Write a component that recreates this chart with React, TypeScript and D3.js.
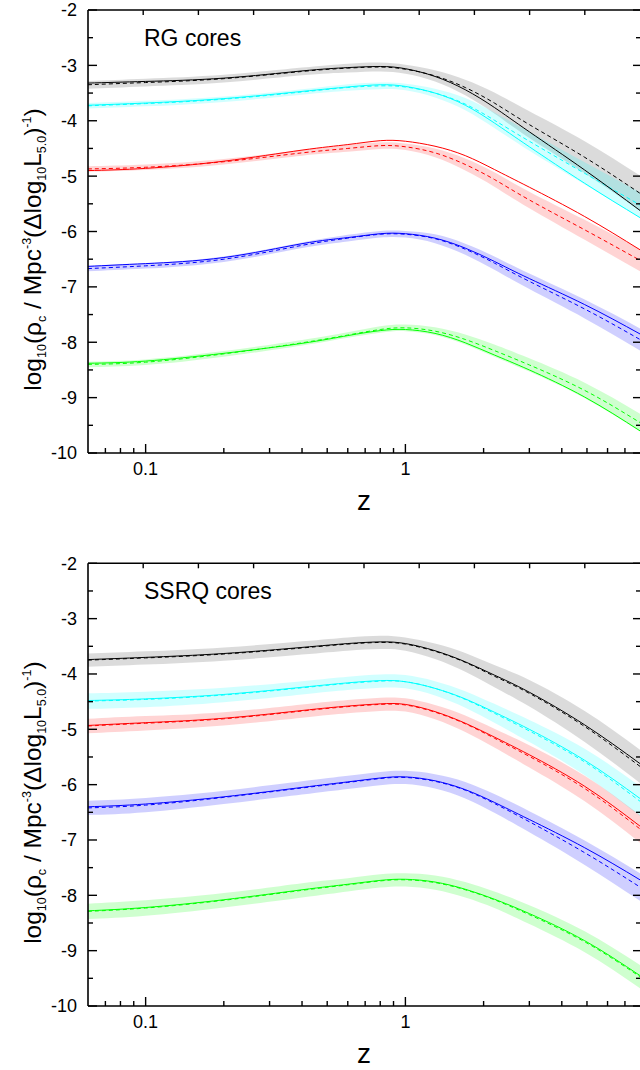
import React from "react";
import * as d3 from "d3";

// redshift grid
const zGrid = [0.06, 0.1, 0.2, 0.4, 0.6, 0.8, 1.0, 1.3, 1.7, 2.2, 3, 4.9, 8];

// ---- RG cores (top panel) ----
const rgBlackSolid = [-3.32, -3.29, -3.23, -3.10, -3.04, -3.02, -3.06, -3.20, -3.44, -3.76, -4.20, -4.89, -5.62];
const rgBlackDash = [-3.35, -3.31, -3.24, -3.11, -3.05, -3.03, -3.07, -3.19, -3.40, -3.68, -4.07, -4.66, -5.31];
const rgBlackErr = [0.07, 0.07, 0.07, 0.07, 0.08, 0.08, 0.08, 0.10, 0.14, 0.19, 0.24, 0.29, 0.32];
const rgCyanSolid = [-3.72, -3.68, -3.60, -3.47, -3.39, -3.35, -3.38, -3.50, -3.72, -4.04, -4.47, -5.13, -5.75];
const rgCyanDash = [-3.73, -3.69, -3.61, -3.48, -3.40, -3.37, -3.39, -3.50, -3.70, -3.99, -4.37, -4.95, -5.52];
const rgCyanErr = [0.05, 0.05, 0.05, 0.05, 0.06, 0.06, 0.06, 0.08, 0.11, 0.14, 0.17, 0.2, 0.23];
const rgRedSolid = [-4.90, -4.86, -4.73, -4.53, -4.43, -4.36, -4.37, -4.46, -4.63, -4.88, -5.20, -5.73, -6.33];
const rgRedDash = [-4.87, -4.84, -4.74, -4.58, -4.50, -4.45, -4.47, -4.58, -4.79, -5.06, -5.43, -5.97, -6.52];
const rgRedErr = [0.05, 0.05, 0.05, 0.05, 0.06, 0.06, 0.06, 0.08, 0.11, 0.13, 0.15, 0.18, 0.2];
const rgBlueSolid = [-6.63, -6.58, -6.47, -6.22, -6.11, -6.04, -6.04, -6.12, -6.30, -6.54, -6.85, -7.32, -7.85];
const rgBlueDash = [-6.67, -6.62, -6.50, -6.25, -6.12, -6.05, -6.05, -6.13, -6.32, -6.57, -6.90, -7.40, -7.95];
const rgBlueErr = [0.05, 0.05, 0.05, 0.05, 0.06, 0.06, 0.06, 0.08, 0.1, 0.12, 0.14, 0.17, 0.2];
const rgGreenSolid = [-8.38, -8.34, -8.20, -8.02, -7.88, -7.79, -7.77, -7.84, -8.01, -8.23, -8.50, -8.99, -9.60];
const rgGreenDash = [-8.40, -8.36, -8.21, -8.01, -7.87, -7.77, -7.74, -7.80, -7.95, -8.15, -8.41, -8.87, -9.45];
const rgGreenErr = [0.05, 0.05, 0.05, 0.05, 0.05, 0.06, 0.06, 0.07, 0.09, 0.11, 0.12, 0.14, 0.16];

// ---- SSRQ cores (bottom panel) ----
const sqBlackSolid = [-3.74, -3.70, -3.63, -3.52, -3.45, -3.42, -3.45, -3.58, -3.78, -4.02, -4.33, -4.92, -5.62];
const sqBlackDash = [-3.75, -3.71, -3.64, -3.53, -3.46, -3.43, -3.46, -3.59, -3.79, -4.04, -4.35, -4.95, -5.67];
const sqBlackErr = [0.12, 0.12, 0.12, 0.12, 0.12, 0.12, 0.12, 0.14, 0.17, 0.2, 0.24, 0.28, 0.3];
const sqCyanSolid = [-4.48, -4.45, -4.37, -4.24, -4.16, -4.12, -4.14, -4.26, -4.45, -4.69, -5.00, -5.56, -6.25];
const sqCyanDash = [-4.49, -4.46, -4.38, -4.25, -4.17, -4.13, -4.14, -4.26, -4.46, -4.71, -5.03, -5.59, -6.30];
const sqCyanErr = [0.14, 0.14, 0.13, 0.12, 0.12, 0.12, 0.12, 0.13, 0.15, 0.17, 0.2, 0.24, 0.27];
const sqRedSolid = [-4.93, -4.88, -4.80, -4.66, -4.58, -4.54, -4.55, -4.68, -4.89, -5.14, -5.46, -6.03, -6.75];
const sqRedDash = [-4.94, -4.89, -4.81, -4.67, -4.59, -4.55, -4.56, -4.69, -4.90, -5.16, -5.49, -6.07, -6.80];
const sqRedErr = [0.13, 0.13, 0.12, 0.12, 0.12, 0.12, 0.12, 0.13, 0.15, 0.17, 0.2, 0.23, 0.25];
const sqBlueSolid = [-6.40, -6.35, -6.22, -6.05, -5.95, -5.88, -5.86, -5.93, -6.09, -6.32, -6.63, -7.14, -7.72];
const sqBlueDash = [-6.42, -6.37, -6.23, -6.06, -5.96, -5.89, -5.87, -5.94, -6.10, -6.34, -6.67, -7.23, -7.85];
const sqBlueErr = [0.13, 0.13, 0.12, 0.12, 0.12, 0.12, 0.12, 0.13, 0.15, 0.17, 0.19, 0.22, 0.25];
const sqGreenSolid = [-8.28, -8.22, -8.08, -7.90, -7.80, -7.73, -7.71, -7.76, -7.89, -8.07, -8.33, -8.82, -9.45];
const sqGreenDash = [-8.29, -8.23, -8.09, -7.91, -7.81, -7.74, -7.72, -7.77, -7.90, -8.08, -8.35, -8.84, -9.47];
const sqGreenErr = [0.14, 0.14, 0.13, 0.13, 0.12, 0.12, 0.12, 0.13, 0.14, 0.15, 0.17, 0.19, 0.21];

const seriesColors = ["#000000", "#00ffff", "#ff0000", "#0000ff", "#00ff00"];
const bandOpacity = [0.14, 0.18, 0.17, 0.19, 0.19];

const yTicksMajor = [-2, -3, -4, -5, -6, -7, -8, -9, -10];
const yTicksMinor = [-2.5, -3.5, -4.5, -5.5, -6.5, -7.5, -8.5, -9.5];
const xTicksMajor = [0.1, 1];
const xTickLabels = ["0.1", "1"];
const xTicksMinor = [0.07, 0.08, 0.09, 0.2, 0.3, 0.4, 0.5, 0.6, 0.7, 0.8, 0.9, 2, 3, 4, 5, 6, 7];
const topTicks = [1, 2, 3, 4, 5, 6, 7, 8, 9];

const FONT = "'Liberation Sans', Arial, Helvetica, sans-serif";

type Series = { solid: number[]; dash: number[]; err: number[] };

const rgSeries: Series[] = [
  { solid: rgBlackSolid, dash: rgBlackDash, err: rgBlackErr },
  { solid: rgCyanSolid, dash: rgCyanDash, err: rgCyanErr },
  { solid: rgRedSolid, dash: rgRedDash, err: rgRedErr },
  { solid: rgBlueSolid, dash: rgBlueDash, err: rgBlueErr },
  { solid: rgGreenSolid, dash: rgGreenDash, err: rgGreenErr },
];
const sqSeries: Series[] = [
  { solid: sqBlackSolid, dash: sqBlackDash, err: sqBlackErr },
  { solid: sqCyanSolid, dash: sqCyanDash, err: sqCyanErr },
  { solid: sqRedSolid, dash: sqRedDash, err: sqRedErr },
  { solid: sqBlueSolid, dash: sqBlueDash, err: sqBlueErr },
  { solid: sqGreenSolid, dash: sqGreenDash, err: sqGreenErr },
];

const LEFT = 88;
const RIGHT = 641;

function Panel({ top, bottom, label, series, id }: { top: number; bottom: number; label: string; series: Series[]; id: string }) {
  const x = d3.scaleLog().domain([0.06, 8]).range([LEFT, 640]);
  const y = d3.scaleLinear().domain([-10, -2]).range([bottom, top]);
  const xt = d3.scaleLinear().domain([0, 10]).range([LEFT, 640]);
  const curve = d3.curveNatural;
  const line = d3
    .line<number>()
    .x((_, i) => x(zGrid[i]))
    .y((d) => y(d))
    .curve(curve);
  const area = (s: Series) =>
    d3
      .area<number>()
      .x((_, i) => x(zGrid[i]))
      .y0((d, i) => y(d - s.err[i]))
      .y1((d, i) => y(d + s.err[i]))
      .curve(curve)(s.dash) || "";

  const midY = (top + bottom) / 2 + 18;
  const sub = 12.5;
  return (
    <g>
      <defs>
        <clipPath id={id}>
          <rect x={LEFT} y={top} width={RIGHT - LEFT} height={bottom - top} />
        </clipPath>
      </defs>
      <g clipPath={`url(#${id})`}>
        {series.map((s, i) => (
          <path key={"b" + i} d={area(s)} fill={seriesColors[i]} fillOpacity={bandOpacity[i]} stroke="none" />
        ))}
        {series.map((s, i) => (
          <path key={"d" + i} d={line(s.dash) || ""} fill="none" stroke={seriesColors[i]} strokeWidth={1} strokeDasharray="4 3" />
        ))}
        {series.map((s, i) => (
          <path key={"s" + i} d={line(s.solid) || ""} fill="none" stroke={seriesColors[i]} strokeWidth={1} />
        ))}
      </g>
      {/* frame */}
      <line x1={LEFT} x2={LEFT} y1={top} y2={bottom} stroke="#000" strokeWidth={1.6} />
      <line x1={LEFT} x2={RIGHT + 2} y1={bottom} y2={bottom} stroke="#000" strokeWidth={1.6} />
      <line x1={LEFT} x2={RIGHT + 2} y1={top} y2={top} stroke="#000" strokeWidth={1.6} />
      <line x1={RIGHT} x2={RIGHT} y1={top} y2={bottom} stroke="#000" strokeWidth={1.6} />
      {/* y ticks */}
      {yTicksMajor.map((t) => (
        <g key={"ym" + t}>
          <line x1={LEFT} x2={LEFT + 9} y1={y(t)} y2={y(t)} stroke="#000" strokeWidth={1.4} />
          <line x1={RIGHT} x2={RIGHT - 8} y1={y(t)} y2={y(t)} stroke="#000" strokeWidth={1.4} />
          <text x={77} y={y(t)} dy="0.36em" textAnchor="end" fontSize={18} fontFamily={FONT}>
            {String(t)}
          </text>
        </g>
      ))}
      {yTicksMinor.map((t) => (
        <g key={"yn" + t}>
          <line x1={LEFT} x2={LEFT + 5} y1={y(t)} y2={y(t)} stroke="#000" strokeWidth={1.4} />
          <line x1={RIGHT} x2={RIGHT - 5} y1={y(t)} y2={y(t)} stroke="#000" strokeWidth={1.4} />
        </g>
      ))}
      {/* x ticks */}
      {xTicksMajor.map((t, i) => (
        <g key={"xm" + t}>
          <line x1={x(t)} x2={x(t)} y1={bottom} y2={bottom - 9} stroke="#000" strokeWidth={1.4} />
          <text x={x(t)} y={bottom + 22} textAnchor="middle" fontSize={18} fontFamily={FONT}>
            {xTickLabels[i]}
          </text>
        </g>
      ))}
      {xTicksMinor.map((t) => (
        <line key={"xn" + t} x1={x(t)} x2={x(t)} y1={bottom} y2={bottom - 5} stroke="#000" strokeWidth={1.4} />
      ))}
      {topTicks.map((t) => (
        <line key={"xt" + t} x1={xt(t)} x2={xt(t)} y1={top} y2={top + 5} stroke="#000" strokeWidth={1.4} />
      ))}
      {/* labels */}
      <text x={144} y={top + 36} fontSize={23} fontFamily={FONT}>
        {label}
      </text>
      <text x={364} y={bottom + 57} textAnchor="middle" fontSize={28} fontFamily={FONT}>
        z
      </text>
      <text transform={`translate(41,${midY}) rotate(-90)`} textAnchor="middle" fontSize={24.5} fontFamily={FONT}>
        log
        <tspan dy={5} fontSize={sub}>10</tspan>
        <tspan dy={-5}>(ρ</tspan>
        <tspan dy={5} fontSize={sub}>c</tspan>
        <tspan dy={-5}> / Mpc</tspan>
        <tspan dy={-10} fontSize={sub}>-3</tspan>
        <tspan dy={10}>(Δlog</tspan>
        <tspan dy={5} fontSize={sub}>10</tspan>
        <tspan dy={-5}>L</tspan>
        <tspan dy={5} fontSize={sub}>5.0</tspan>
        <tspan dy={-5}>)</tspan>
        <tspan dy={-10} fontSize={sub}>-1</tspan>
        <tspan dy={10}>)</tspan>
      </text>
    </g>
  );
}

export default function App() {
  return (
    <svg
      width={640}
      height={1070}
      style={{ position: "absolute", left: 0, top: 0, background: "#fff" }}
      xmlns="http://www.w3.org/2000/svg"
    >
      <rect x={0} y={0} width={640} height={1070} fill="#fff" />
      <Panel top={10} bottom={453} label="RG cores" series={rgSeries} id="clipTop" />
      <Panel top={563.3} bottom={1006} label="SSRQ cores" series={sqSeries} id="clipBottom" />
    </svg>
  );
}
